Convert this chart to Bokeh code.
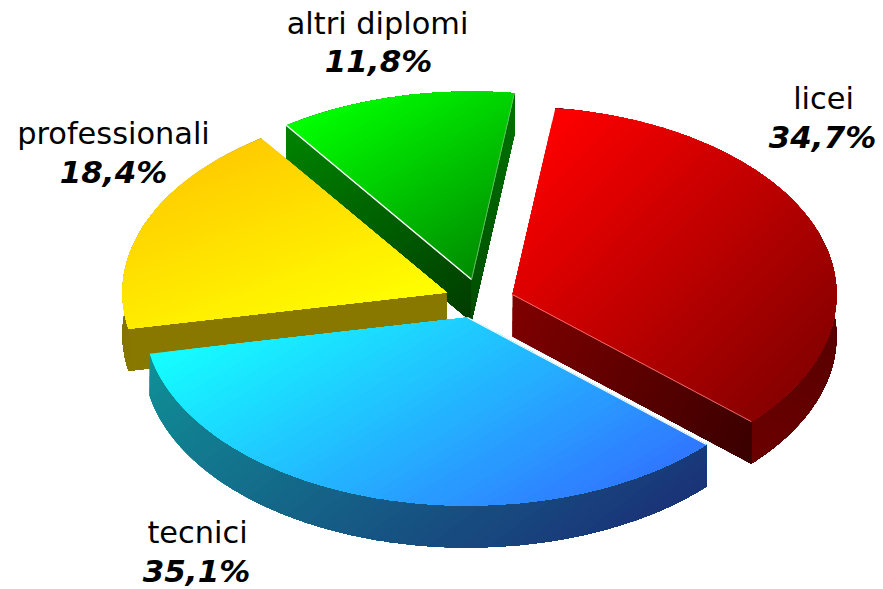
import numpy as np
from bokeh.plotting import figure
from bokeh.models import Range1d
from bokeh.core.properties import value
from bokeh.embed import file_html
from bokeh.resources import INLINE

# ---- data
categories = ["licei", "tecnici", "professionali", "altri diplomi"]
shares = [34.7, 35.1, 18.4, 11.8]

# ---- styling
START = 7.6
RX, RY, DEPTH = 324.0, 188.0, 42.0
APEX = {"licei": (512, 294), "tecnici": (467, 317), "professionali": (446, 292), "altri diplomi": (471, 279)}
LABEL = {"licei": (823, 98, 822, 136), "tecnici": (197, 532, 196, 570),
         "professionali": (113, 133, 113, 171), "altri diplomi": (377, 23, 378, 60)}
TOP = {"licei": ((.7, .7), "#ff0000", "#880000"),
       "tecnici": ((.5, .85), "#14ffff", "#3078ff"),
       "professionali": ((.35, .94), "#ffcc00", "#ffff00"),
       "altri diplomi": ((.5, .85), "#00ff00", "#008c00")}
RIM = {"licei": ((-.5, .85), "#4c0000", "#6c0000"),
       "tecnici": ((.6, .8), "#0f9096", "#1a3478"),
       "professionali": ((.5, .85), "#7a6c00", "#887800"),
       "altri diplomi": ((.5, .85), "#006000", "#004000")}
WALLS = {"licei": [(1, (1, .5), "#800000", "#3a0000")],
         "tecnici": [],
         "professionali": [(0, (0, 1), "#887800", "#887800")],
         "altri diplomi": [(0, (.6, .8), "#008400", "#003c00"), (1, (0, 1), "#007400", "#004c00")]}
EDGE = {"licei": [(1, "#ff9a9a", 0.7)], "tecnici": [(0, "#ffffff", 1.1)],
        "professionali": [], "altri diplomi": [(0, "#ffffff", 1.4), (1, "#66bb66", 1.0)]}
DRAW_ORDER = ["altri diplomi", "professionali", "licei", "tecnici"]
BANDS = 48


def rgb(h):
    return np.array([int(h[i:i + 2], 16) for i in (1, 3, 5)], float)


def clip(poly, d, c):
    vals = poly @ d - c
    out = []
    n = len(poly)
    for i in range(n):
        a, b, va, vb = poly[i], poly[(i + 1) % n], vals[i], vals[(i + 1) % n]
        if va >= 0:
            out.append(a)
        if (va >= 0) != (vb >= 0):
            out.append(a + (b - a) * va / (va - vb))
    return np.array(out) if out else None


xs, ys, cols = [], [], []


def paint(poly, d, c0, c1):
    d = np.array(d, float)
    d /= np.linalg.norm(d)
    proj = poly @ d
    lo, hi = proj.min(), proj.max()
    a, b = rgb(c0), rgb(c1)
    for k in range(BANDS):
        f = k / (BANDS - 1)
        piece = poly if k == 0 else clip(poly, d, lo + (hi - lo) * k / BANDS)
        if piece is None or len(piece) < 3:
            continue
        col = a + (b - a) * f
        xs.append(piece[:, 0].tolist())
        ys.append(piece[:, 1].tolist())
        cols.append("#%02x%02x%02x" % tuple(int(round(v)) for v in col))


bounds = {}
ang = START
for name, s in zip(categories, shares):
    bounds[name] = (ang, ang + s * 3.6)
    ang += s * 3.6

lines = []
for name in DRAW_ORDER:
    t0, t1 = np.radians(bounds[name])
    th = np.linspace(t0, t1, 160)
    ax, ay = APEX[name]
    arc = np.column_stack([ax + RX * np.sin(th), ay - RY * np.cos(th)])
    drop = np.array([0, DEPTH])
    apex = np.array([ax, ay], float)
    rim = np.vstack([arc, (arc + drop)[::-1]])
    paint(rim, *RIM[name])
    ends = [arc[0], arc[-1]]
    for idx, d, c0, c1 in WALLS[name]:
        e = ends[idx]
        paint(np.array([apex, e, e + drop, apex + drop]), d, c0, c1)
    paint(np.vstack([[apex], arc]), *TOP[name])
    for idx, col, w in EDGE[name]:
        lines.append(([ax, ends[idx][0]], [ay, ends[idx][1]], col, w))

p = figure(width=883, height=589, x_range=Range1d(0, 883), y_range=Range1d(589, 0),
           toolbar_location=None, output_backend="svg", min_border=0)
p.axis.visible = False
p.grid.visible = False
p.outline_line_color = None
p.patches(xs, ys, fill_color=cols, line_color=None)

for lx, ly, col, w in lines:
    p.line(lx, ly, line_color=col, line_width=w)

tn = [n for n in categories]
p.text([LABEL[n][0] for n in tn], [LABEL[n][1] for n in tn], text=tn,
       text_font=value("DejaVu Sans"), text_font_size="30.4px", text_align="center",
       text_baseline="alphabetic", text_color="#000000")
p.text([LABEL[n][2] for n in tn], [LABEL[n][3] for n in tn],
       text=[f"{s:.1f}%".replace(".", ",") for s in shares],
       text_font=value("DejaVu Sans"), text_font_style="bold italic", text_font_size="31px",
       text_align="center", text_baseline="alphabetic", text_color="#000000")

open("out.html", "w").write(file_html(p, INLINE))
